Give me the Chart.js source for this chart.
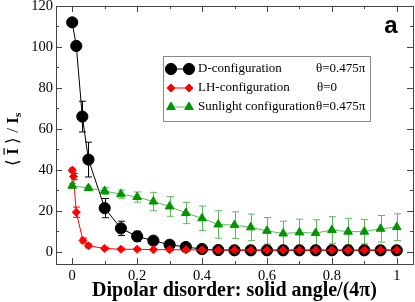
<!DOCTYPE html>
<html>
<head>
<meta charset="utf-8">
<script src="https://cdn.jsdelivr.net/npm/chart.js@4"></script>
<style>
  body { margin: 0; background: #fff; }
  #wrap { width: 415px; height: 302px; position: relative; }
</style>
</head>
<body>
<div id="wrap"><canvas id="myChart"></canvas></div>
<script>
// D-configuration (black circles)
const dX = [0, 0.0125, 0.031, 0.05, 0.1, 0.15, 0.2, 0.25, 0.3, 0.35, 0.4, 0.45, 0.5, 0.55, 0.6, 0.65, 0.7, 0.75, 0.8, 0.85, 0.9, 0.95, 1.0]
const dY = [112, 100.5, 66, 45, 21.3, 11.4, 7.5, 5.4, 3.4, 2.3, 1.3, 0.8, 0.7, 0.7, 0.7, 0.7, 0.7, 0.7, 0.7, 0.7, 0.7, 0.7, 0.7]
const dErr = [1, 1, 7.5, 8.5, 4.7, 3.5, 2.5, 1.5, 1, 0.8, 0.5, 0.4, 0.4, 0.4, 0.4, 0.4, 0.4, 0.4, 0.4, 0.4, 0.4, 0.4, 0.4]

// LH-configuration (red diamonds)
const lhX = [0, 0.004, 0.0125, 0.033, 0.05, 0.1, 0.15, 0.2, 0.25, 0.3, 0.35, 0.4, 0.45, 0.5, 0.55, 0.6, 0.65, 0.7, 0.75, 0.8, 0.85, 0.9, 0.95, 1.0]
const lhY = [39.8, 36.7, 19.3, 5.5, 2.9, 1.6, 1.2, 1.2, 1.0, 1.0, 0.9, 0.9, 0.8, 0.8, 0.8, 0.8, 0.8, 0.8, 0.8, 0.8, 0.8, 0.8, 0.8, 0.8]
const lhErr = [1, 1.5, 2.5, 1.2, 1, 0.6, 0.5, 0.5, 0.4, 0.4, 0.4, 0.4, 0.4, 0.4, 0.4, 0.4, 0.4, 0.4, 0.4, 0.4, 0.4, 0.4, 0.4, 0.4]

// Sunlight configuration (green triangles)
const sunX = [0, 0.05, 0.1, 0.15, 0.2, 0.25, 0.3, 0.35, 0.4, 0.45, 0.5, 0.55, 0.6, 0.65, 0.7, 0.75, 0.8, 0.85, 0.9, 0.95, 1.0]
const sunY = [32.2, 31.1, 29.6, 28.1, 26.7, 24.5, 22.1, 18.9, 16.3, 13.3, 13.0, 11.9, 10.2, 8.9, 9.4, 9.1, 10.6, 9.8, 9.8, 11.2, 12.0]
const sunErr = [1, 1, 1.6, 2, 2.5, 4.5, 4.8, 5.2, 6, 6.7, 6.5, 6.5, 6.5, 6, 6.5, 6.5, 6.5, 6.5, 6, 6.5, 6.5]

const xTicks = [0, 0.2, 0.4, 0.6, 0.8, 1]
const yTicks = [0, 20, 40, 60, 80, 100, 120]

const legendRows = [
    {label: 'D-configuration', theta: 'θ=0.475π'},
    {label: 'LH-configuration', theta: 'θ=0'},
    {label: 'Sunlight configuration', theta: 'θ=0.475π'}
]

const BLACK = '#000000'
const RED = '#ff0000'
const GREEN = '#009600'
const GREEN_LIGHT = '#5cb85c'
const SERIF = '"Liberation Serif", "Times New Roman", serif'

function toPoints(xs, ys){
    return xs.map((x, i) => ({x, y: ys[i]}))
}

const errorBars = {
    id: 'errorBars',
    beforeDatasetsDraw(chart){
        const ctx = chart.ctx
        const yScale = chart.scales.y
        chart.data.datasets.forEach((ds, di) => {
            const meta = chart.getDatasetMeta(di)
            ctx.save()
            ctx.strokeStyle = ds.errColor
            ctx.lineWidth = 1
            meta.data.forEach((pt, i) => {
                const e = ds.err[i]
                const v = ds.data[i].y
                const y1 = yScale.getPixelForValue(v + e)
                const y2 = yScale.getPixelForValue(v - e)
                const x = Math.round(pt.x) + 0.5
                ctx.beginPath()
                ctx.moveTo(x, y1); ctx.lineTo(x, y2)
                ctx.moveTo(x - 3.5, y1); ctx.lineTo(x + 3.5, y1)
                ctx.moveTo(x - 3.5, y2); ctx.lineTo(x + 3.5, y2)
                ctx.stroke()
            })
            ctx.restore()
        })
    }
}

const frame = {
    id: 'frame',
    afterDraw(chart){
        const ctx = chart.ctx
        const {left, right, top, bottom} = chart.chartArea
        const xs = chart.scales.x, ys = chart.scales.y
        ctx.save()
        ctx.strokeStyle = '#444'
        ctx.lineWidth = 1
        ctx.strokeRect(Math.round(left) + 0.5, Math.round(top) + 0.5, Math.round(right - left), Math.round(bottom - top))
        ctx.beginPath()
        for(let v = 0; v <= 1.0001; v += 0.1){
            const x = Math.round(xs.getPixelForValue(v)) + 0.5
            const major = Math.round(v * 10) % 2 === 0
            const len = major ? 6 : 3
            ctx.moveTo(x, bottom); ctx.lineTo(x, bottom - len)
            ctx.moveTo(x, top); ctx.lineTo(x, top + len)
        }
        for(let v = 0; v <= 120; v += 10){
            const y = Math.round(ys.getPixelForValue(v)) + 0.5
            const len = v % 20 === 0 ? 6 : 3
            ctx.moveTo(left, y); ctx.lineTo(left + len, y)
            ctx.moveTo(right, y); ctx.lineTo(right - len, y)
        }
        ctx.stroke()

        // legend box
        const lx = 163, ly = 56, lw = 207, lh = 65
        ctx.fillStyle = '#fff'
        ctx.fillRect(lx, ly, lw, lh)
        ctx.strokeStyle = '#888'
        ctx.strokeRect(lx + 0.5, ly + 0.5, lw, lh)
        const rowY = [69, 88, 107]
        const sets = chart.data.datasets
        legendRows.forEach((row, i) => {
            const ds = sets[i]
            const y = rowY[i]
            ctx.strokeStyle = ds.borderColor
            ctx.lineWidth = 1
            ctx.beginPath(); ctx.moveTo(171, y); ctx.lineTo(189, y); ctx.stroke()
            const opts = {pointStyle: ds.pointStyle, radius: ds.pointRadius, borderWidth: 1}
            ctx.fillStyle = ds.pointBackgroundColor
            ctx.strokeStyle = ds.pointBorderColor
            Chart.helpers.drawPoint(ctx, opts, 171, y)
            Chart.helpers.drawPoint(ctx, opts, 189, y)
            ctx.fillStyle = '#000'
            ctx.font = '13px ' + SERIF
            ctx.textBaseline = 'middle'
            ctx.textAlign = 'left'
            ctx.fillText(row.label, 198, y)
            ctx.fillText(row.theta, i === 1 ? 317 : 316, y)
        })

        // x axis title
        ctx.fillStyle = '#000'
        ctx.font = 'bold 20px ' + SERIF
        ctx.textAlign = 'center'
        ctx.textBaseline = 'alphabetic'
        ctx.fillText('Dipolar disorder: solid angle/(4π)', (left + right) / 2, 296)

        // panel label
        ctx.font = 'bold 24px "Liberation Sans", Arial, sans-serif'
        ctx.textBaseline = 'middle'
        ctx.fillText('a', 391, 26)

        // y axis title  < I-bar > / I_s
        ctx.save()
        ctx.translate(18, 166)
        ctx.rotate(-Math.PI / 2)
        ctx.textAlign = 'left'
        ctx.textBaseline = 'alphabetic'
        let cx = 0
        const put = (t, font, dy = 0) => {
            ctx.font = font
            ctx.fillText(t, cx, dy)
            const w = ctx.measureText(t).width
            cx += w
            return w
        }
        const normal = '17px ' + SERIF
        const bold = 'bold 17px ' + SERIF
        put('⟨ ', normal)
        const ix = cx
        const iw = put('I', bold)
        ctx.fillRect(ix, -14.5, iw, 1.2)
        put(' ⟩ / ', normal)
        put('I', bold)
        put('s', 'bold 11px ' + SERIF, 3)
        ctx.restore()
        ctx.restore()
    }
}

const ctx = document.getElementById('myChart')
new Chart(ctx, {
    type: 'scatter',
    data: {
        datasets: [{
            label: 'D-configuration',
            data: toPoints(dX, dY),
            err: dErr,
            errColor: BLACK,
            showLine: true,
            borderColor: BLACK,
            borderWidth: 1,
            pointStyle: 'circle',
            pointRadius: 5.6,
            pointBackgroundColor: BLACK,
            pointBorderColor: BLACK,
            pointBorderWidth: 1,
            order: 3
        }, {
            label: 'LH-configuration',
            data: toPoints(lhX, lhY),
            err: lhErr,
            errColor: RED,
            showLine: true,
            borderColor: RED,
            borderWidth: 1,
            pointStyle: 'rectRot',
            pointRadius: 4,
            pointBackgroundColor: RED,
            pointBorderColor: RED,
            pointBorderWidth: 1,
            order: 2
        }, {
            label: 'Sunlight configuration',
            data: toPoints(sunX, sunY),
            err: sunErr,
            errColor: GREEN_LIGHT,
            showLine: true,
            borderColor: GREEN_LIGHT,
            borderWidth: 1,
            pointStyle: 'triangle',
            pointRadius: 5,
            pointBackgroundColor: GREEN,
            pointBorderColor: GREEN,
            pointBorderWidth: 1,
            order: 1
        }]
    },
    options: {
        responsive: true,
        maintainAspectRatio: false,
        animation: false,
        devicePixelRatio: 1,
        layout: {autoPadding: false, padding: {top: 6, right: 2, left: 0, bottom: 0}},
        plugins: {
            legend: {display: false},
            tooltip: {enabled: false}
        },
        scales: {
            x: {
                type: 'linear',
                min: -0.05,
                max: 1.05,
                afterBuildTicks: s => { s.ticks = xTicks.map(v => ({value: v})) },
                afterFit: s => { s.height = 38; s.paddingLeft = 0; s.paddingRight = 0 },
                grid: {display: false, drawTicks: false},
                border: {display: false},
                ticks: {
                    color: '#000',
                    padding: 3,
                    maxRotation: 0,
                    font: {family: SERIF, size: 14.5},
                    callback: v => String(v)
                }
            },
            y: {
                type: 'linear',
                min: -6,
                max: 120,
                afterBuildTicks: s => { s.ticks = yTicks.map(v => ({value: v})) },
                afterFit: s => { s.width = 56; s.paddingTop = 0; s.paddingBottom = 0 },
                grid: {display: false, drawTicks: false},
                border: {display: false},
                ticks: {
                    color: '#000',
                    padding: 3,
                    font: {family: SERIF, size: 14.5},
                    callback: v => String(v)
                }
            }
        }
    },
    plugins: [errorBars, frame]
})
</script>
</body>
</html>
